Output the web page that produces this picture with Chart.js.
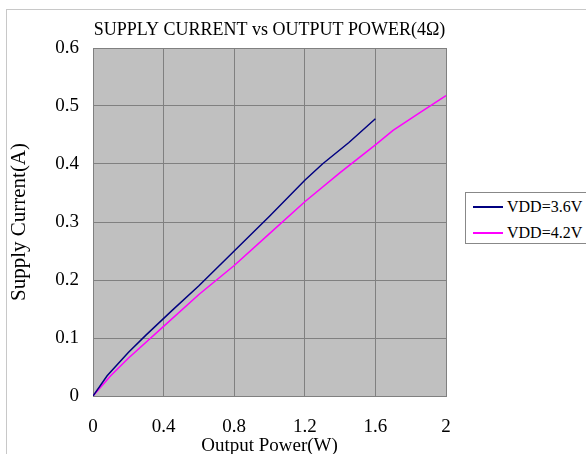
<!DOCTYPE html>
<html>
<head>
<meta charset="utf-8">
<script src="https://cdn.jsdelivr.net/npm/chart.js@4"></script>
<style>
  html, body { margin: 0; padding: 0; background: #fff; }
  #wrap { position: relative; width: 586px; height: 454px; overflow: hidden; }
  #frame { position: absolute; left: 6px; top: 9px; width: 700px; height: 600px; border: 1px solid #c8c8c8; }
  #legend { position: absolute; left: 465px; top: 192px; width: 140px; height: 50px; border: 1px solid #888; background: #fff;
            font-family: "Liberation Serif", serif; font-size: 16px; color: #000; }
  .item { position: absolute; left: 7px; height: 22px; line-height: 22px; }
  .item span.swatch { position: absolute; left: 0; top: 10px; width: 30px; height: 2px; }
  .item span.txt { position: absolute; left: 34px; top: 0; white-space: nowrap; }
</style>
</head>
<body>
<div id="wrap">
  <div id="frame"></div>
  <canvas id="chart" width="586" height="454"></canvas>
  <div id="legend"></div>
</div>
<script>
const chartTitle = 'SUPPLY CURRENT vs OUTPUT POWER(4Ω)';
const xAxisTitle = 'Output Power(W)';
const yAxisTitle = 'Supply Current(A)';

const seriesNames = ['VDD=3.6V', 'VDD=4.2V'];
const seriesColors = ['#000080', '#ff00ff'];

// VDD=3.6V
const power36 = [0, 0.08, 0.2, 0.3, 0.45, 0.6, 0.8, 1.0, 1.2, 1.3, 1.45, 1.6];
const current36 = [0, 0.035, 0.075, 0.105, 0.148, 0.19, 0.25, 0.31, 0.372, 0.4, 0.437, 0.478];

// VDD=4.2V
const power42 = [0, 0.1, 0.2, 0.4, 0.6, 0.8, 1.0, 1.2, 1.4, 1.6, 1.7, 1.85, 2.0];
const current42 = [0, 0.035, 0.065, 0.12, 0.175, 0.225, 0.28, 0.335, 0.385, 0.433, 0.458, 0.488, 0.518];

const xTickLabels = ['0', '0.4', '0.8', '1.2', '1.6', '2'];
const yTickLabels = ['0', '0.1', '0.2', '0.3', '0.4', '0.5', '0.6'];

const FONT = '"Liberation Serif", serif';

const toPoints = (xs, ys) => xs.map((x, i) => ({ x: x, y: ys[i] }));

// grey plot background
const plotBg = {
    id: 'plotBg',
    beforeDraw(chart) {
        const { ctx, chartArea: a } = chart;
        ctx.save();
        ctx.fillStyle = '#c0c0c0';
        ctx.fillRect(a.left, a.top, a.right - a.left, a.bottom - a.top);
        ctx.restore();
    }
};

const ctx = document.getElementById('chart').getContext('2d');
const chart = new Chart(ctx, {
    type: 'line',
    data: {
        datasets: [
            {
                label: seriesNames[0],
                data: toPoints(power36, current36),
                borderColor: seriesColors[0],
                borderWidth: 1.5,
                pointRadius: 0,
                tension: 0
            },
            {
                label: seriesNames[1],
                data: toPoints(power42, current42),
                borderColor: seriesColors[1],
                borderWidth: 1.5,
                pointRadius: 0,
                tension: 0
            }
        ]
    },
    options: {
        responsive: false,
        animation: false,
        layout: { padding: { left: 0, right: 140, top: 0, bottom: 0 } },
        plugins: {
            legend: { display: false },
            tooltip: { enabled: false },
            title: {
                display: true,
                text: chartTitle,
                fullSize: false,
                color: '#000',
                font: { family: FONT, size: 18, weight: 'normal', lineHeight: 1 },
                padding: { top: 21, bottom: 9 }
            }
        },
        scales: {
            x: {
                type: 'linear',
                min: 0,
                max: 2,
                afterFit: s => { s.height = 58; },
                afterBuildTicks: s => { s.ticks = xTickLabels.map(v => ({ value: parseFloat(v) })); },
                ticks: {
                    callback: (v, i) => xTickLabels[i],
                    color: '#000',
                    padding: 20,
                    maxRotation: 0,
                    font: { family: FONT, size: 19 }
                },
                grid: { color: '#808080', lineWidth: 1, drawTicks: false },
                border: { display: true, color: '#808080', width: 1 },
                title: {
                    display: true,
                    text: xAxisTitle,
                    color: '#000',
                    font: { family: FONT, size: 19, lineHeight: 0.8 },
                    padding: { top: 0, bottom: 0 }
                }
            },
            y: {
                type: 'linear',
                min: 0,
                max: 0.6,
                afterFit: s => { s.width = 93; },
                afterBuildTicks: s => { s.ticks = yTickLabels.map(v => ({ value: parseFloat(v) })); },
                ticks: {
                    callback: (v, i) => yTickLabels[i],
                    color: '#000',
                    padding: 14,
                    font: { family: FONT, size: 19 }
                },
                grid: { color: '#808080', lineWidth: 1, drawTicks: false },
                border: { display: true, color: '#808080', width: 1 },
                title: {
                    display: true,
                    text: yAxisTitle,
                    color: '#000',
                    font: { family: FONT, size: 21, lineHeight: 1 },
                    padding: { top: 9, bottom: 0 }
                }
            }
        }
    },
    plugins: [plotBg]
});

// legend box on the right
const legendEl = document.getElementById('legend');
seriesNames.forEach((name, i) => {
    const item = document.createElement('div');
    item.className = 'item';
    item.style.top = (3 + i * 26) + 'px';
    item.innerHTML = '<span class="swatch" style="background:' + seriesColors[i] + '"></span><span class="txt">' + name + '</span>';
    legendEl.appendChild(item);
});
</script>
</body>
</html>
